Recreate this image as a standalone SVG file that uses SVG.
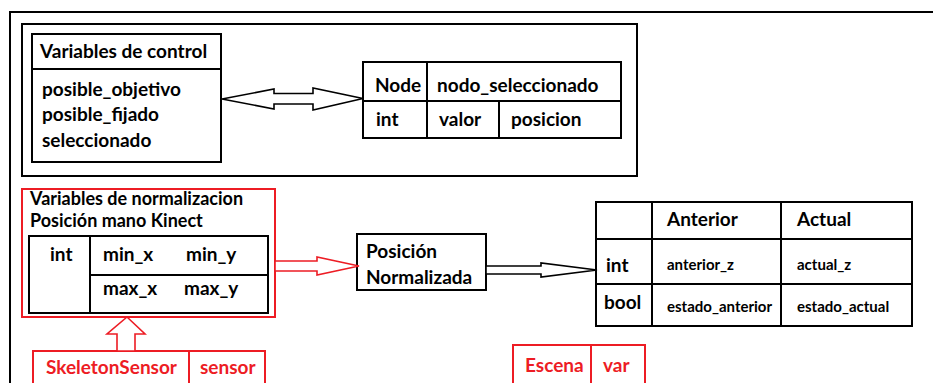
<svg xmlns="http://www.w3.org/2000/svg" width="933" height="383" viewBox="0 0 933 383">
  <style>
    text { font-family: Lato, "Liberation Sans", sans-serif; font-weight: bold; fill: #000; }
    .big { font-size: 19px; }
    .mid { font-size: 18px; }
    .small { font-size: 15px; }
    .red { fill: #ed1c24; }
    .box { fill: #fff; stroke: #000; stroke-width: 2; }
    .rbox { fill: #fff; stroke: #ed1c24; stroke-width: 2; }
    .ln { stroke: #000; stroke-width: 2; fill: none; }
    .rln { stroke: #ed1c24; stroke-width: 2; fill: none; }
    .arrow { fill: #fff; stroke: #000; stroke-width: 1.6; stroke-linejoin: miter; }
    .rarrow { fill: #fff; stroke: #ed1c24; stroke-width: 1.6; stroke-linejoin: miter; }
  </style>
  <rect width="933" height="383" fill="#fff"/>

  <!-- outer frame -->
  <path class="ln" d="M10 383 V12 H933" stroke-width="2.4"/>

  <!-- control panel frame -->
  <rect id="panel-control" class="box" x="22" y="24" width="615" height="152"/>

  <g id="variables-control">
    <rect class="box" x="32" y="34" width="189" height="128"/>
    <line class="ln" x1="32" y1="69" x2="221" y2="69"/>
    <text class="big" x="40" y="58">Variables de control</text>
    <text class="big" x="42" y="96">posible_objetivo</text>
    <text class="big" x="42" y="121">posible_fijado</text>
    <text class="big" x="42" y="147">seleccionado</text>
  </g>

  <g id="nodo-seleccionado">
    <rect class="box" x="363" y="62" width="258" height="76"/>
    <line class="ln" x1="363" y1="101" x2="621" y2="101"/>
    <line class="ln" x1="427" y1="62" x2="427" y2="138"/>
    <line class="ln" x1="499" y1="101" x2="499" y2="138"/>
    <text class="big" x="375" y="92">Node</text>
    <text class="big" x="437" y="92">nodo_seleccionado</text>
    <text class="big" x="376" y="126">int</text>
    <text class="big" x="439" y="126">valor</text>
    <text class="big" x="511" y="126">posicion</text>
  </g>

  <g id="normalizacion">
    <rect class="rbox" x="22" y="189" width="253" height="128"/>
    <text class="mid" x="30" y="205">Variables de normalizacion</text>
    <text class="mid" x="30" y="227">Posición mano Kinect</text>
    <rect class="box" x="29" y="236" width="239" height="77"/>
    <line class="ln" x1="90" y1="236" x2="90" y2="313"/>
    <line class="ln" x1="90" y1="275" x2="268" y2="275"/>
    <text class="big" x="50" y="261">int</text>
    <text class="big" x="103" y="261">min_x</text>
    <text class="big" x="186" y="261">min_y</text>
    <text class="big" x="103" y="295">max_x</text>
    <text class="big" x="184" y="295">max_y</text>
  </g>

  <g id="skeleton-sensor">
    <rect class="rbox" x="33" y="351" width="232" height="40"/>
    <line class="rln" x1="189" y1="351" x2="189" y2="383"/>
    <text class="big red" x="46" y="374">SkeletonSensor</text>
    <text class="big red" x="200" y="374">sensor</text>
  </g>

  <g id="posicion-normalizada">
    <rect class="box" x="357" y="234" width="129" height="56"/>
    <text class="big" x="366" y="258">Posición</text>
    <text class="big" x="366" y="284">Normalizada</text>
  </g>

  <g id="estado-tabla">
    <rect class="box" x="596" y="202" width="316" height="124"/>
    <line class="ln" x1="596" y1="239" x2="912" y2="239"/>
    <line class="ln" x1="596" y1="284" x2="912" y2="284"/>
    <line class="ln" x1="652" y1="202" x2="652" y2="326"/>
    <line class="ln" x1="781" y1="202" x2="781" y2="326"/>
    <text class="big" x="667" y="226">Anterior</text>
    <text class="big" x="797" y="226">Actual</text>
    <text class="big" x="606" y="272">int</text>
    <text class="small" x="667" y="270">anterior_z</text>
    <text class="small" x="797" y="270">actual_z</text>
    <text class="big" x="604" y="309">bool</text>
    <text class="small" x="667" y="312">estado_anterior</text>
    <text class="small" x="797" y="312">estado_actual</text>
  </g>

  <g id="escena">
    <rect class="rbox" x="513" y="345" width="132" height="46"/>
    <line class="rln" x1="591" y1="345" x2="591" y2="383"/>
    <text class="big red" x="525" y="372">Escena</text>
    <text class="big red" x="603" y="372">var</text>
  </g>

  <g id="connectors">
    <!-- double arrow: control variables <-> selected node -->
    <polygon class="arrow" points="222,99 274,89 274,93.5 313,93.5 313,88 363,98.5 313,110 313,104 274,104 274,109"/>
    <!-- normalisation -> normalised position -->
    <polygon class="rarrow" points="275,261 317,261 317,257 359,266 317,275 317,271 275,271"/>
    <!-- normalised position -> state table -->
    <polygon class="arrow" points="486,266 541,266 541,263 597,270 541,277 541,274 486,274"/>
    <!-- sensor -> normalisation -->
    <polygon class="rarrow" points="127,317 145,334 135,334 135,351 117,351 117,334 107,334"/>
  </g>
</svg>
